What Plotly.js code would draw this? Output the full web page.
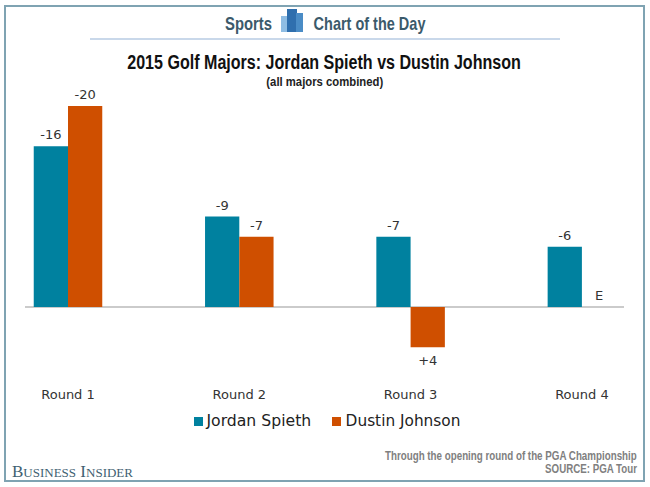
<!DOCTYPE html>
<html><head><meta charset="utf-8">
<script src="https://cdn.plot.ly/plotly-3.0.1.min.js"></script>
<style>html,body{margin:0;padding:0;background:#fff}#c{width:650px;height:487px}</style>
</head><body><div id="c"></div>
<script>
const categories = ['Round 1','Round 2','Round 3','Round 4'];
const seriesNames = ['Jordan Spieth','Dustin Johnson'];
const spieth = [-16,-9,-7,-6];
const johnson = [-20,-7,4,0];
const spiethLabels = ['-16','-9','-7','-6'];
const johnsonLabels = ['-20','-7','+4','E'];
const teal='#00819f', orange='#cf4f00';
const W=650,H=487;
const L=25,R=624,T=90,B=380;
const unit=171.3, c0=68;
const xr=[(L-c0)/unit,(R-c0)/unit];
const zeroY=307, perUnit=10.05;
const yr=[(B-zeroY)/perUnit,(T-zeroY)/perUnit];
const font='"DejaVu Sans", sans-serif';
const head='"Liberation Sans", Arial, sans-serif';
const dark='#333';
function bar(name,y,text,color){return {type:'bar',name,x:categories,y,text,textposition:'outside',
 textfont:{family:font,size:13,color:dark},marker:{color,line:{width:0}},cliponaxis:false,hoverinfo:'skip',showlegend:false};}
const data=[bar(seriesNames[0],spieth,spiethLabels,teal),bar(seriesNames[1],johnson,johnsonLabels,orange)];
const X=x=>(x-L)/(R-L), Y=y=>(B-y)/(B-T);
function pr(x0,y0,x1,y1,c,lc,lw){return {type:'rect',xref:'paper',yref:'paper',x0:X(x0),x1:X(x1),y0:Y(y0),y1:Y(y1),
 fillcolor:c,line:{color:lc||c,width:lw||0},layer:'below'};}
function note(text,x,y,size,family,color,anchor,bold){return {xref:'paper',yref:'paper',x:X(x),y:Y(y),text:bold?'<b>'+text+'</b>':text,
 showarrow:false,xanchor:anchor||'center',yanchor:'middle',font:{family,size,color}};}
const layout={width:W,height:H,paper_bgcolor:'#fff',plot_bgcolor:'rgba(0,0,0,0)',
 margin:{l:L,r:W-R,t:T,b:H-B,pad:0},barmode:'group',bargap:0.6,bargroupgap:0,showlegend:false,
 xaxis:{type:'category',categories,range:xr,showgrid:false,zeroline:false,showline:false,ticks:'',side:'bottom',
   tickfont:{family:font,size:13,color:dark},ticklabelstandoff:5},
 yaxis:{range:yr,showgrid:false,zeroline:true,zerolinecolor:'#cbcbcb',zerolinewidth:1.6,showticklabels:false,ticks:'',showline:false},
 shapes:[
  pr(5,6,644,481,'rgba(0,0,0,0)','#7fa3b2',2),
  pr(90,38,560,40,'#c9d8ea'),
  pr(281,16,291,32,'#8fbde3'),
  pr(287,9,297,32,'#2f6fae'),
  pr(296,13,303,32,'#4a8cc6'),
  pr(194,417,203,426,teal),
  pr(332,417,341,426,orange)
 ],
 annotations:[
  note('Sports',248,24,18,head,'#3b5a6b','center',true),
  note('Chart of the Day',369,24,18,head,'#3b5a6b','center',true),
  note('2015 Golf Majors: Jordan Spieth vs Dustin Johnson',324,62,20,head,'#111','center',true),
  note('(all majors combined)',325,81,13.5,head,'#222','center',true),
  note('Through the opening round of the PGA Championship',511,456,12.5,head,'#808080','center',true),
  note('SOURCE: PGA Tour',591,469,12.5,head,'#808080','center',true),
  note('B<span style="font-size:13px">USINESS</span> I<span style="font-size:13px">NSIDER</span>',10,471,17,'"Liberation Serif", serif','#3f5f72','left',false),
  note(seriesNames[0],258.5,421,15.5,font,'#222','center',false),
  note(seriesNames[1],402.5,421,15.5,font,'#222','center',false)
 ]};
const widths={'Sports':47,'Chart of the Day':112,'2015 Golf Majors: Jordan Spieth vs Dustin Johnson':394,
 '(all majors combined)':117,'Through the opening round of the PGA Championship':252,'SOURCE: PGA Tour':92,
 'Jordan Spieth':105,'Dustin Johnson':115};
Plotly.newPlot('c',data,layout,{displayModeBar:false,staticPlot:true}).then(gd=>{
 gd.querySelectorAll('.annotation-text').forEach(t=>{
  const w=widths[t.textContent];
  if(w){
   const cx=parseFloat(t.getAttribute('x'))||0;
   const sx=w/t.getComputedTextLength();
   t.setAttribute('transform','translate('+cx+',0) scale('+sx+',1) translate('+(-cx)+',0)');
  }
 });
 gd.querySelectorAll('.bartext').forEach(t=>{
  const dy=t.textContent==='+4'?2.5:-1;
  t.setAttribute('transform',(t.getAttribute('transform')||'')+' translate(0,'+dy+')');
 });
});
</script></body></html>
